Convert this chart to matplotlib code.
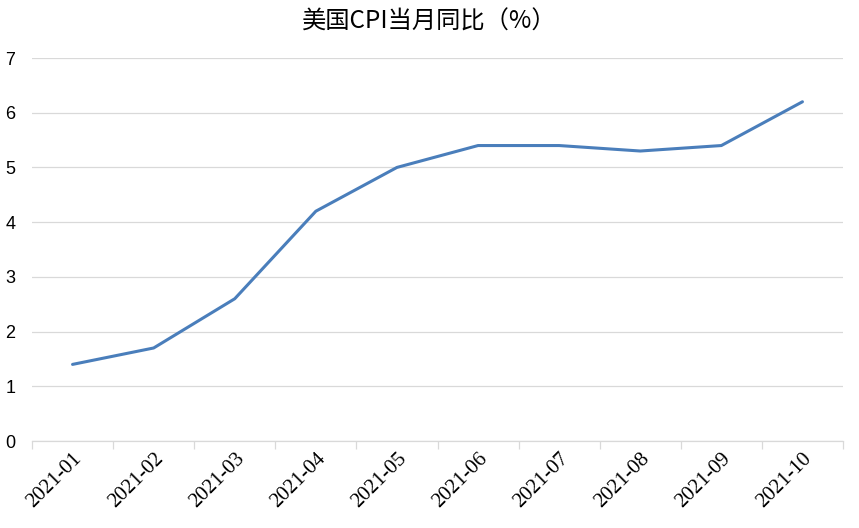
import matplotlib.pyplot as plt
import numpy as np

plt.rcParams['font.family'] = ['Noto Sans CJK SC', 'DejaVu Sans']
plt.rcParams['font.serif'] = ['Liberation Serif', 'DejaVu Serif']

months = ['2021-01', '2021-02', '2021-03', '2021-04', '2021-05',
          '2021-06', '2021-07', '2021-08', '2021-09', '2021-10']
cpi = [1.4, 1.7, 2.6, 4.2, 5.0, 5.4, 5.4, 5.3, 5.4, 6.2]
title = '美国CPI当月同比（%）'

fig = plt.figure(figsize=(8.59, 5.28), dpi=100)
ax = fig.add_axes([32/859, 87/528, (843-32)/859, (441-58)/528])

x = np.arange(len(months))
ax.plot(x, cpi, color='#4a7ebb', linewidth=2.2, solid_capstyle='round')

ax.set_xlim(-0.5, len(months) - 0.5)
ax.set_ylim(0, 7)
ax.set_yticks(range(0, 8))
ax.grid(axis='y', color='#d9d9d9', linewidth=0.9)
ax.set_axisbelow(True)

ax.set_xticks(x)
ax.set_xticklabels(months, rotation=45, ha='right', rotation_mode='anchor',
                   fontfamily='serif', fontsize=15)
ax.tick_params(axis='x', which='major', length=0, pad=6)
ax.set_xticks(np.arange(-0.5, len(months)), minor=True)
ax.tick_params(axis='x', which='minor', length=6, color='#d9d9d9', width=0.9)

for lab in ax.get_yticklabels():
    lab.set_fontfamily('Liberation Sans')
    lab.set_fontsize(13)
ax.tick_params(axis='y', length=0, pad=12)

for s in ['top', 'right', 'left']:
    ax.spines[s].set_visible(False)
ax.spines['bottom'].set_color('#d9d9d9')
ax.spines['bottom'].set_linewidth(0.9)

fig.text(0.5, 1 - 22/528, title, ha='center', va='center', fontsize=17.5)

fig.savefig('out.png', dpi=100)
